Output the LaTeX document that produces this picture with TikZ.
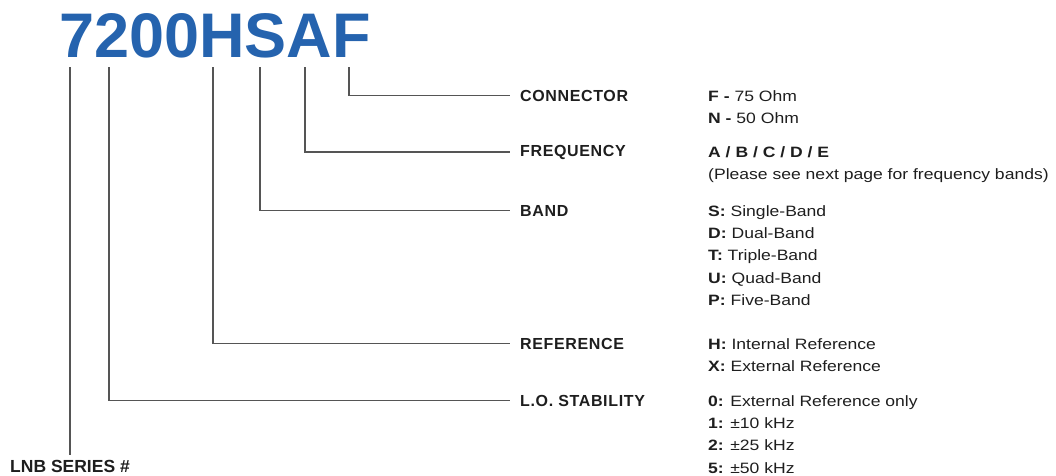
\documentclass[tikz,border=0pt]{standalone}
\usepackage{fontspec}
\setmainfont{Liberation Sans}
\newfontfamily\optfont[FakeStretch=1.17]{Liberation Sans}
\usetikzlibrary{positioning}
\definecolor{codeblue}{HTML}{2563AE}
\definecolor{leadgrey}{HTML}{555555}
\definecolor{inkblack}{HTML}{1E1E1E}

\begin{document}
\begin{tikzpicture}[x=1pt,y=-1pt,
  lead/.style={draw=leadgrey,line width=1.8pt},
  field/.style={anchor=base west,inner sep=0pt,text=inkblack,
    font=\bfseries\fontsize{16}{18}\selectfont\addfontfeature{LetterSpace=4}},
  opts/.style={anchor=north west,inner sep=0pt,align=left,text=inkblack,
    font=\optfont\fontsize{15}{22.4}\selectfont}]
\useasboundingbox (0,0) rectangle (1056,475);

% part number
\node[anchor=base west,inner sep=0pt,text=codeblue,
  font=\bfseries\fontsize{63}{63}\selectfont] (code) at (59,57) {7200HSAF};

% tops of the leader lines, under each character
\coordinate (t7) at (70,67);
\coordinate (t2) at (109,67);
\coordinate (tH) at (213,67);
\coordinate (tS) at (260,67);
\coordinate (tA) at (305,67);
\coordinate (tF) at (349,67);

% field names
\node[field] (conn) at (520,101) {CONNECTOR};
\node[field] (freq) at (520,156) {FREQUENCY};
\node[field] (band) at (520,216) {BAND};
\node[field] (ref) at (520,349) {REFERENCE};
\node[field] (stab) at (520,406) {L.O. STABILITY};
\node[anchor=base,inner sep=0pt,text=inkblack,
  font=\bfseries\fontsize{17.5}{18}\selectfont] (series) at (70,472) {LNB SERIES \#};

% options
\node[opts] (connopt) at (708,90) {\textbf{F -} 75 Ohm\\\textbf{N -} 50 Ohm};
\node[opts] (freqopt) at (708,146) {\textbf{A / B / C / D / E}\\(Please see next page for frequency bands)};
\node[opts] (bandopt) at (708,205) {\textbf{S:} Single-Band\\\textbf{D:} Dual-Band\\\textbf{T:} Triple-Band\\\textbf{U:} Quad-Band\\\textbf{P:} Five-Band};
\node[opts] (refopt) at (708,338) {\textbf{H:} Internal Reference\\\textbf{X:} External Reference};
\node[opts] (stabopt) at (708,395) {\textbf{0:} External Reference only\\\textbf{1:} ±10 kHz\\\textbf{2:} ±25 kHz\\\textbf{5:} ±50 kHz};

% leaders
\draw[lead] (tF) |- ([xshift=-10pt]conn.west);
\draw[lead] (tA) |- ([xshift=-10pt]freq.west);
\draw[lead] (tS) |- ([xshift=-10pt]band.west);
\draw[lead] (tH) |- ([xshift=-10pt]ref.west);
\draw[lead] (t2) |- ([xshift=-10pt]stab.west);
\draw[lead] (t7) -- ([yshift=5pt]series.north);
\end{tikzpicture}
\end{document}
